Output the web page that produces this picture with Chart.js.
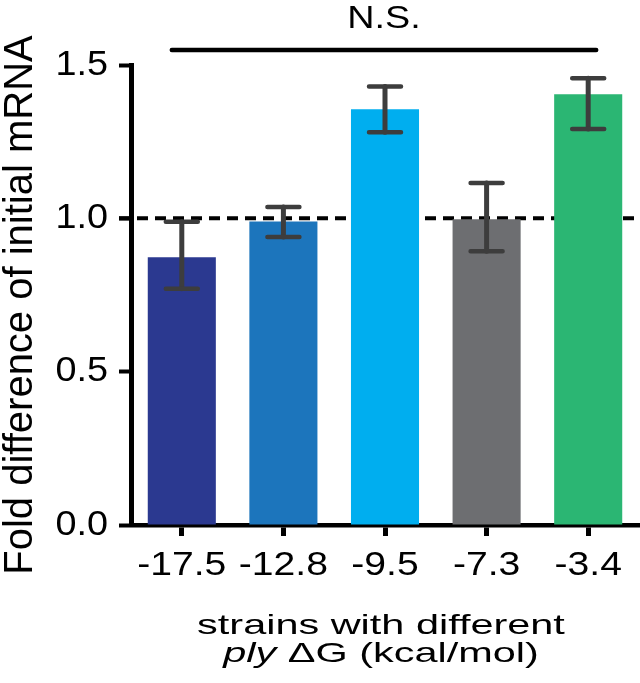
<!DOCTYPE html>
<html>
<head>
<meta charset="utf-8">
<script src="https://cdn.jsdelivr.net/npm/chart.js@4.4.1/dist/chart.umd.min.js"></script>
<style>
  body { margin: 0; background: #fff; }
  canvas { display: block; }
</style>
</head>
<body>
<canvas id="chart" width="640" height="683"></canvas>
<script>
// data
const categories = ['-17.5', '-12.8', '-9.5', '-7.3', '-3.4'];
const foldMeans = [0.873, 0.990, 1.356, 0.997, 1.405];
const errLow = [0.770, 0.939, 1.281, 0.893, 1.291];
const errHigh = [0.989, 1.037, 1.430, 1.115, 1.457];
const yTickValues = [0, 0.5, 1.0, 1.5];
const barColors = ['#2b3990', '#1c75bc', '#00aeef', '#6d6e71', '#2bb673'];

const FONT = '"Liberation Sans", Arial, sans-serif';

// text drawn with a horizontal stretch, like the figure
const drawText = (ctx, text, x, y, size, sx, align, baseline, italic) => {
    ctx.save();
    ctx.translate(x, y);
    ctx.scale(sx, 1);
    ctx.font = (italic ? 'italic ' : '') + size + 'px ' + FONT;
    ctx.textAlign = align;
    ctx.textBaseline = baseline;
    ctx.fillStyle = '#000';
    ctx.fillText(text, 0, 0);
    ctx.restore();
};

// dashed reference line at 1.0, behind the bars
const refLine = {
    id: 'refLine',
    beforeDatasetsDraw(chart) {
        const { ctx, chartArea, scales: { y } } = chart;
        const py = y.getPixelForValue(1.0);
        ctx.save();
        ctx.strokeStyle = '#000';
        ctx.lineWidth = 4;
        ctx.setLineDash([11, 7]);
        ctx.beginPath();
        ctx.moveTo(chartArea.left - 12, py);
        ctx.lineTo(chartArea.right + 1, py);
        ctx.stroke();
        ctx.restore();
    }
};

// error bars, labels, titles, N.S. bracket
const extras = {
    id: 'extras',
    afterDatasetsDraw(chart) {
        const { ctx, scales: { x, y } } = chart;
        ctx.save();
        ctx.strokeStyle = '#3d3d3d';
        ctx.lineCap = 'round';
        categories.forEach((c, i) => {
            const px = x.getPixelForValue(i);
            const lo = y.getPixelForValue(errLow[i]);
            const hi = y.getPixelForValue(errHigh[i]);
            ctx.lineWidth = 5;
            ctx.beginPath();
            ctx.moveTo(px, lo);
            ctx.lineTo(px, hi);
            ctx.stroke();
            ctx.lineWidth = 4.5;
            ctx.beginPath();
            ctx.moveTo(px - 16, lo);
            ctx.lineTo(px + 16, lo);
            ctx.moveTo(px - 16, hi);
            ctx.lineTo(px + 16, hi);
            ctx.stroke();
        });
        ctx.restore();
    },
    afterDraw(chart) {
        const { ctx, chartArea, scales: { x, y } } = chart;

        // y tick labels
        yTickValues.forEach(v => {
            drawText(ctx, v.toFixed(1), 108, y.getPixelForValue(v), 35, 1.08, 'right', 'middle');
        });
        // x tick labels
        categories.forEach((c, i) => {
            drawText(ctx, c, x.getPixelForValue(i), 566, 34, 1.15, 'center', 'middle');
        });

        // y title
        ctx.save();
        ctx.translate(32, (chartArea.top + chartArea.bottom) / 2 + 10);
        ctx.rotate(-Math.PI / 2);
        ctx.font = '40px ' + FONT;
        ctx.textAlign = 'center';
        ctx.textBaseline = 'alphabetic';
        ctx.fillStyle = '#000';
        ctx.fillText('Fold difference of initial mRNA', 0, 0);
        ctx.restore();

        // x title, two lines, "ply" in italics
        const sx = 1.48;
        drawText(ctx, 'strains with different', 381, 634, 28, sx, 'center', 'alphabetic');
        ctx.save();
        ctx.font = 'italic 28px ' + FONT;
        const w1 = ctx.measureText('ply ').width;
        ctx.font = '28px ' + FONT;
        const w2 = ctx.measureText('\u0394G (kcal/mol)').width;
        ctx.restore();
        const startX = 381 - (w1 + w2) * sx / 2;
        drawText(ctx, 'ply ', startX, 662, 28, sx, 'left', 'alphabetic', true);
        drawText(ctx, '\u0394G (kcal/mol)', startX + w1 * sx, 662, 28, sx, 'left', 'alphabetic');

        // N.S. bracket over all bars
        const left = x.getPixelForValue(0) - 10;
        const right = x.getPixelForValue(categories.length - 1) + 8;
        const by = chartArea.top - 15;
        ctx.save();
        ctx.strokeStyle = '#000';
        ctx.lineWidth = 4.5;
        ctx.lineCap = 'round';
        ctx.beginPath();
        ctx.moveTo(left, by);
        ctx.lineTo(right, by);
        ctx.stroke();
        ctx.restore();
        drawText(ctx, 'N.S.', (left + right) / 2, 28, 32, 1.18, 'center', 'alphabetic');
    }
};

new Chart(document.getElementById('chart'), {
    type: 'bar',
    data: {
        labels: categories,
        datasets: [{
            data: foldMeans,
            backgroundColor: barColors,
            borderWidth: 0,
            barPercentage: 1,
            categoryPercentage: 0.67
        }]
    },
    options: {
        responsive: false,
        animation: false,
        devicePixelRatio: 1,
        layout: { padding: { top: 65, right: 1, left: 0, bottom: 0 } },
        plugins: {
            legend: { display: false },
            tooltip: { enabled: false }
        },
        scales: {
            x: {
                offset: true,
                grid: {
                    offset: false,
                    drawOnChartArea: false,
                    tickLength: 11,
                    tickWidth: 5,
                    tickColor: '#000'
                },
                border: { display: true, width: 4.5, color: '#000' },
                ticks: { display: false },
                afterFit: s => { s.height = 158; }
            },
            y: {
                min: 0,
                max: 1.5,
                ticks: { display: false, stepSize: 0.5 },
                grid: {
                    drawOnChartArea: false,
                    tickLength: 12,
                    tickWidth: 4,
                    tickColor: '#000'
                },
                border: { display: true, width: 5, color: '#000' },
                afterFit: s => { s.width = 131; }
            }
        }
    },
    plugins: [refLine, extras]
});
</script>
</body>
</html>
